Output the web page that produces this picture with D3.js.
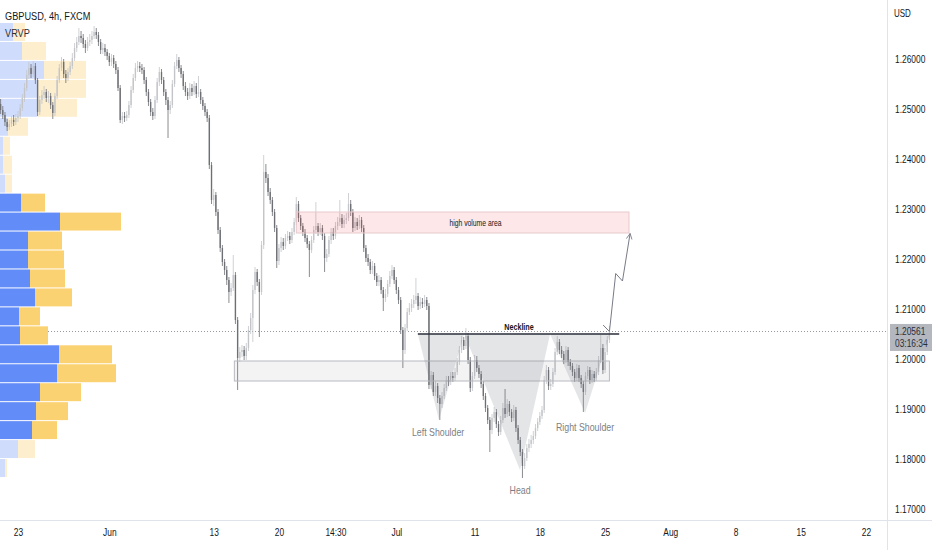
<!DOCTYPE html>
<html>
<head>
<meta charset="utf-8">
<script src="https://cdn.jsdelivr.net/npm/d3@7"></script>
<style>
  body { margin: 0; background: #fff; }
  svg { display: block; }
  text { font-family: "Liberation Sans", Arial, sans-serif; }
</style>
</head>
<body>
<svg id="chart"></svg>
<script>
// GBPUSD 4h candles, bar index 0 = Mon 23 May 00:00, 6 bars per trading day
const firstBar = -8;
const firstOpen = 1.2510;
const closes = [
  1.2498,1.2488,1.2474,1.2464,1.2470,1.2478,1.2474,1.2482,1.2486,1.2502,
  1.2522,1.2542,1.2568,1.2582,1.2570,1.2586,1.2558,1.2494,1.2518,1.2528,
  1.2534,1.2522,1.2526,1.2508,1.2492,1.2526,1.2558,1.2582,1.2594,1.2570,
  1.2562,1.2574,1.2586,1.2602,1.2622,1.2634,1.2646,1.2642,1.2630,1.2622,
  1.2634,1.2638,1.2646,1.2654,1.2648,1.2634,1.2618,1.2622,1.2614,1.2606,
  1.2594,1.2602,1.2590,1.2578,1.2542,1.2478,1.2486,1.2482,1.2488,1.2508,
  1.2538,1.2562,1.2582,1.2586,1.2582,1.2578,1.2558,1.2534,1.2514,1.2494,
  1.2486,1.2518,1.2554,1.2574,1.2558,1.2534,1.2518,1.2498,1.2508,1.2550,
  1.2586,1.2598,1.2582,1.2570,1.2546,1.2534,1.2526,1.2542,1.2534,1.2546,
  1.2530,1.2534,1.2518,1.2506,1.2494,1.2482,1.2388,1.2318,1.2328,1.2294,
  1.2258,1.2222,1.2194,1.2178,1.2158,1.2134,1.2142,1.2168,1.2078,1.2002,
  1.2014,1.2018,1.2006,1.2022,1.2058,1.2082,1.2138,1.2174,1.2154,1.2134,
  1.2228,1.2374,1.2362,1.2334,1.2318,1.2294,1.2262,1.2196,1.2222,1.2234,
  1.2226,1.2242,1.2246,1.2238,1.2254,1.2274,1.2310,1.2282,1.2266,1.2254,
  1.2242,1.2230,1.2218,1.2238,1.2258,1.2266,1.2254,1.2262,1.2246,1.2202,
  1.2210,1.2238,1.2254,1.2246,1.2266,1.2274,1.2282,1.2270,1.2278,1.2282,
  1.2310,1.2294,1.2262,1.2274,1.2266,1.2278,1.2262,1.2222,1.2202,1.2194,
  1.2178,1.2186,1.2166,1.2154,1.2158,1.2138,1.2122,1.2130,1.2150,1.2166,
  1.2178,1.2158,1.2138,1.2118,1.2058,1.2018,1.2062,1.2094,1.2102,1.2110,
  1.2118,1.2126,1.2106,1.2114,1.2110,1.2118,1.2106,1.1948,1.1968,1.1934,
  1.1946,1.1922,1.1910,1.1926,1.1942,1.1958,1.1954,1.1966,1.1962,1.1974,
  1.1994,1.2018,1.2038,1.2026,1.2046,1.1998,1.1942,1.1966,1.1998,1.1982,
  1.1970,1.1950,1.1926,1.1902,1.1878,1.1858,1.1882,1.1894,1.1870,1.1854,
  1.1878,1.1902,1.1890,1.1910,1.1894,1.1882,1.1898,1.1862,1.1838,1.1814,
  1.1786,1.1802,1.1822,1.1830,1.1838,1.1846,1.1862,1.1874,1.1886,1.1898,
  1.1958,1.1978,1.1946,1.1950,1.1974,1.2014,1.2034,1.2018,1.2010,1.1998,
  1.2018,1.1994,1.1986,1.1974,1.1962,1.1982,1.1962,1.1950,1.1934,1.1966,
  1.1978,1.1958,1.1970,1.1962,1.1974,1.1998,1.2022,1.1978,1.2014,1.2038,
  1.2056
];
const highs = [
  1.2520,1.2506,1.2494,1.2480,1.2478,1.2486,1.2488,1.2490,1.2496,1.2510,
  1.2530,1.2552,1.2578,1.2594,1.2590,1.2596,1.2592,1.2562,1.2526,1.2538,
  1.2546,1.2540,1.2536,1.2532,1.2514,1.2532,1.2566,1.2590,1.2604,1.2600,
  1.2578,1.2582,1.2594,1.2612,1.2632,1.2644,1.2662,1.2656,1.2650,1.2638,
  1.2644,1.2650,1.2656,1.2666,1.2662,1.2654,1.2640,1.2632,1.2630,1.2620,
  1.2612,1.2610,1.2608,1.2596,1.2584,1.2548,1.2494,1.2494,1.2496,1.2516,
  1.2546,1.2570,1.2592,1.2596,1.2594,1.2590,1.2584,1.2564,1.2540,1.2520,
  1.2502,1.2526,1.2562,1.2584,1.2580,1.2564,1.2540,1.2524,1.2516,1.2558,
  1.2594,1.2610,1.2604,1.2588,1.2576,1.2554,1.2542,1.2552,1.2550,1.2556,
  1.2552,1.2566,1.2540,1.2524,1.2512,1.2500,1.2488,1.2394,1.2340,1.2334,
  1.2300,1.2264,1.2228,1.2200,1.2186,1.2164,1.2152,1.2208,1.2174,1.2084,
  1.2024,1.2028,1.2026,1.2032,1.2066,1.2092,1.2148,1.2184,1.2180,1.2160,
  1.2236,1.2408,1.2390,1.2370,1.2342,1.2324,1.2300,1.2268,1.2230,1.2244,
  1.2242,1.2250,1.2256,1.2254,1.2262,1.2282,1.2324,1.2316,1.2288,1.2272,
  1.2260,1.2248,1.2236,1.2246,1.2266,1.2314,1.2272,1.2272,1.2268,1.2252,
  1.2220,1.2246,1.2262,1.2262,1.2274,1.2284,1.2318,1.2290,1.2288,1.2292,
  1.2332,1.2318,1.2300,1.2284,1.2282,1.2288,1.2284,1.2268,1.2228,1.2210,
  1.2200,1.2196,1.2192,1.2172,1.2168,1.2164,1.2144,1.2140,1.2158,1.2176,
  1.2188,1.2184,1.2164,1.2144,1.2124,1.2064,1.2070,1.2102,1.2112,1.2120,
  1.2128,1.2162,1.2132,1.2124,1.2122,1.2128,1.2124,1.2112,1.1976,1.1974,
  1.1956,1.1952,1.1928,1.1934,1.1950,1.1966,1.1966,1.1974,1.1974,1.1982,
  1.2002,1.2026,1.2046,1.2044,1.2062,1.2052,1.2004,1.1974,1.2008,1.2006,
  1.1988,1.1976,1.1956,1.1932,1.1908,1.1884,1.1890,1.1904,1.1900,1.1876,
  1.1886,1.1912,1.1940,1.1920,1.1916,1.1900,1.1908,1.1904,1.1868,1.1844,
  1.1820,1.1812,1.1830,1.1840,1.1848,1.1856,1.1870,1.1882,1.1894,1.1906,
  1.1966,1.1988,1.1984,1.1960,1.1982,1.2022,1.2046,1.2040,1.2026,1.2016,
  1.2026,1.2024,1.2000,1.1992,1.1980,1.1990,1.1988,1.1968,1.1956,1.1974,
  1.1986,1.1984,1.1978,1.1976,1.1982,1.2006,1.2048,1.2030,1.2022,1.2046,
  1.2066
];
const lows = [
  1.2490,1.2480,1.2466,1.2456,1.2458,1.2464,1.2466,1.2468,1.2474,1.2480,
  1.2496,1.2514,1.2536,1.2560,1.2562,1.2564,1.2550,1.2486,1.2488,1.2510,
  1.2520,1.2514,1.2512,1.2500,1.2480,1.2486,1.2520,1.2552,1.2576,1.2562,
  1.2552,1.2556,1.2568,1.2580,1.2596,1.2614,1.2628,1.2632,1.2622,1.2612,
  1.2616,1.2626,1.2630,1.2640,1.2640,1.2626,1.2610,1.2610,1.2606,1.2598,
  1.2586,1.2586,1.2582,1.2570,1.2536,1.2472,1.2470,1.2474,1.2476,1.2482,
  1.2502,1.2532,1.2556,1.2574,1.2574,1.2570,1.2550,1.2526,1.2506,1.2486,
  1.2478,1.2480,1.2512,1.2546,1.2550,1.2526,1.2508,1.2442,1.2490,1.2502,
  1.2544,1.2580,1.2574,1.2562,1.2538,1.2526,1.2518,1.2520,1.2526,1.2528,
  1.2522,1.2524,1.2510,1.2498,1.2486,1.2474,1.2380,1.2310,1.2306,1.2286,
  1.2250,1.2214,1.2186,1.2168,1.2148,1.2112,1.2126,1.2136,1.2070,1.1938,
  1.1994,1.2004,1.1998,1.1998,1.2016,1.2050,1.2034,1.2130,1.2146,1.2044,
  1.2128,1.2220,1.2352,1.2326,1.2310,1.2286,1.2254,1.2182,1.2188,1.2214,
  1.2218,1.2220,1.2236,1.2230,1.2232,1.2248,1.2268,1.2274,1.2258,1.2246,
  1.2234,1.2222,1.2164,1.2212,1.2232,1.2250,1.2246,1.2248,1.2238,1.2174,
  1.2194,1.2204,1.2230,1.2238,1.2240,1.2258,1.2266,1.2262,1.2262,1.2270,
  1.2276,1.2286,1.2254,1.2256,1.2258,1.2260,1.2254,1.2214,1.2194,1.2186,
  1.2170,1.2170,1.2158,1.2146,1.2146,1.2130,1.2096,1.2114,1.2124,1.2144,
  1.2160,1.2150,1.2130,1.2110,1.2050,1.1982,1.2010,1.2056,1.2088,1.2094,
  1.2102,1.2110,1.2098,1.2100,1.2102,1.2104,1.2098,1.1940,1.1940,1.1926,
  1.1926,1.1912,1.1878,1.1902,1.1920,1.1936,1.1946,1.1948,1.1954,1.1956,
  1.1968,1.1988,1.2012,1.2018,1.2020,1.1990,1.1934,1.1936,1.1960,1.1974,
  1.1962,1.1942,1.1918,1.1894,1.1870,1.1814,1.1850,1.1874,1.1862,1.1846,
  1.1848,1.1872,1.1882,1.1884,1.1886,1.1874,1.1876,1.1854,1.1830,1.1806,
  1.1762,1.1780,1.1796,1.1814,1.1822,1.1830,1.1840,1.1856,1.1868,1.1880,
  1.1892,1.1950,1.1938,1.1938,1.1944,1.1968,1.2008,1.2010,1.2002,1.1990,
  1.1992,1.1986,1.1978,1.1966,1.1954,1.1956,1.1954,1.1942,1.1894,1.1928,
  1.1960,1.1950,1.1952,1.1954,1.1956,1.1968,1.1992,1.1970,1.1972,1.2008,
  1.2032
];

// axes
const priceTicks = [1.17, 1.18, 1.19, 1.20, 1.21, 1.22, 1.23, 1.24, 1.25, 1.26];
const timeTickBars = [0, 42, 90, 120, 146, 174, 210, 240, 270, 300, 330, 360, 390];
const timeTickLabels = ["23", "Jun", "13", "20", "14:30", "Jul", "11", "18", "25", "Aug", "8", "15", "22"];
const lastPrice = 1.20561;
const countdown = "03:16:34";

// visible range volume profile, rows from top (high price) to bottom
const vpHigh = 1.2672;
const vpLow = 1.1762;
const vpUp =   [13, 22, 44, 37, 37, 8, 3, 3, 5, 21, 60, 28, 28, 30, 35, 19, 20, 59, 57, 40, 36, 32, 18, 5];
const vpDown = [12, 24, 42, 49, 40, 20, 7, 9, 7, 24, 61, 34, 36, 35, 37, 21, 28, 53, 59, 41, 32, 25, 17, 2];
const valueArea = [9, 21];

// drawings: [bar, price]
const highVolZone = { bars: [128, 281], prices: [1.2294, 1.2252], label: "high volume area", labelBar: 210.4 };
const supportZone = { bars: [99.5, 272], prices: [1.1996, 1.1956] };
const necklinePrice = 1.2050;
const necklineBars = [183.9, 276.5];
const hsPattern = [[183.9, 1.2050], [193.6, 1.1878], [205.2, 1.2050], [230.9, 1.1778],
                   [244.7, 1.2050], [260.8, 1.1892], [272.2, 1.2050]];
const hsLabels = [
  { text: "Left Shoulder", bar: 193.2, price: 1.1846 },
  { text: "Head", bar: 230.9, price: 1.1731 },
  { text: "Right Shoulder", bar: 260.8, price: 1.1857 }
];
const projection = [[269.1, 1.2068], [272.0, 1.2055], [274.9, 1.2171], [278.0, 1.2156], [281.5, 1.2251]];

const W = 932, H = 550, plotR = 887, plotB = 520;

const svg = d3.select("#chart").attr("width", W).attr("height", H);

const x = d3.scaleLinear().domain([0, 390]).range([18, 866]);
const y = d3.scaleLinear().domain([1.17, 1.26]).range([509, 59]);

// the chart's font is a narrow one; squeeze text horizontally
function narrow(sel, k = 0.8) {
  sel.each(function () {
    const t = d3.select(this);
    const tx = +t.attr("x") || 0, ty = +t.attr("y") || 0;
    t.attr("x", 0).attr("y", 0).attr("transform", `translate(${tx},${ty}) scale(${k},1)`);
  });
}

const defs = svg.append("defs");
defs.append("clipPath").attr("id", "plot")
  .append("rect").attr("width", plotR).attr("height", plotB);

const plot = svg.append("g").attr("clip-path", "url(#plot)");

// last price dotted line
plot.append("line")
  .attr("x1", 0).attr("x2", plotR)
  .attr("y1", Math.round(y(lastPrice)) + 0.5).attr("y2", Math.round(y(lastPrice)) + 0.5)
  .attr("stroke", "#9598a1").attr("stroke-dasharray", "1,2");

// volume profile
const rowStep = (vpHigh - vpLow) / vpUp.length;
const vx = d3.scaleLinear().domain([0, d3.max(vpUp, (d, i) => d + vpDown[i])]).range([0, 121]);
const rows = vpUp.map((u, i) => ({
  top: y(vpHigh - i * rowStep),
  bottom: y(vpHigh - (i + 1) * rowStep),
  up: u, down: vpDown[i],
  inVA: i >= valueArea[0] && i <= valueArea[1]
}));
const vp = plot.append("g");
rows.forEach(r => {
  const h = r.bottom - r.top - 1;
  vp.append("rect").attr("x", 0).attr("y", r.top).attr("width", vx(r.up)).attr("height", h)
    .attr("fill", r.inVA ? "#628cf8" : "#cfdcfb");
  vp.append("rect").attr("x", vx(r.up)).attr("y", r.top).attr("width", vx(r.down)).attr("height", h)
    .attr("fill", r.inVA ? "#fbd272" : "#fdeecd");
});

// candles
const bars = closes.map((c, k) => ({
  i: firstBar + k,
  o: k ? closes[k - 1] : firstOpen,
  h: highs[k], l: lows[k], c
}));
const bw = (x(1) - x(0)) * 0.62;
const upCol = "#c3c5c9", downCol = "#6d6f74";
const candles = plot.append("g").selectAll("g").data(bars).join("g");
candles.append("line")
  .attr("x1", d => x(d.i)).attr("x2", d => x(d.i))
  .attr("y1", d => y(Math.max(d.h, d.o, d.c))).attr("y2", d => y(Math.min(d.l, d.o, d.c)))
  .attr("stroke", d => d.c >= d.o ? upCol : downCol).attr("stroke-width", 0.8);
candles.append("rect")
  .attr("x", d => x(d.i) - bw / 2).attr("width", bw)
  .attr("y", d => y(Math.max(d.o, d.c)))
  .attr("height", d => Math.max(1, Math.abs(y(d.o) - y(d.c))))
  .attr("fill", d => d.c >= d.o ? upCol : downCol);

// drawings
const draw = plot.append("g");
draw.append("rect")
  .attr("x", x(highVolZone.bars[0])).attr("width", x(highVolZone.bars[1]) - x(highVolZone.bars[0]))
  .attr("y", y(highVolZone.prices[0])).attr("height", y(highVolZone.prices[1]) - y(highVolZone.prices[0]))
  .attr("fill", "rgba(242,54,69,0.12)").attr("stroke", "#e8c9cc");
draw.append("text")
  .attr("x", x(highVolZone.labelBar)).attr("y", (y(highVolZone.prices[0]) + y(highVolZone.prices[1])) / 2 + 3)
  .attr("text-anchor", "middle").attr("font-size", 8.5).attr("fill", "#131722")
  .text(highVolZone.label);

draw.append("rect")
  .attr("x", x(supportZone.bars[0])).attr("width", x(supportZone.bars[1]) - x(supportZone.bars[0]))
  .attr("y", y(supportZone.prices[0])).attr("height", y(supportZone.prices[1]) - y(supportZone.prices[0]))
  .attr("fill", "rgba(120,123,134,0.09)").attr("stroke", "#b8bac0");

draw.append("path")
  .attr("d", d3.line().x(d => x(d[0])).y(d => y(d[1]))(hsPattern) + "Z")
  .attr("fill", "rgba(120,123,134,0.2)");

draw.append("line")
  .attr("x1", x(necklineBars[0])).attr("x2", x(necklineBars[1]))
  .attr("y1", y(necklinePrice)).attr("y2", y(necklinePrice))
  .attr("stroke", "#2a2e39").attr("stroke-width", 1.5);
draw.append("text")
  .attr("x", x(230.4)).attr("y", y(necklinePrice) - 4)
  .attr("text-anchor", "middle").attr("font-size", 9).attr("font-weight", "bold").attr("fill", "#131722")
  .text("Neckline");

draw.selectAll(".hs").data(hsLabels).join("text")
  .attr("x", d => x(d.bar)).attr("y", d => y(d.price))
  .attr("text-anchor", "middle").attr("font-size", 11).attr("fill", "#7c7f88")
  .text(d => d.text);

defs.append("marker")
  .attr("id", "arrow").attr("viewBox", "0 0 10 10").attr("refX", 9).attr("refY", 5)
  .attr("markerWidth", 7).attr("markerHeight", 7).attr("orient", "auto")
  .append("path").attr("d", "M1,1 L9,5 L1,9").attr("fill", "none").attr("stroke", "#787b86").attr("stroke-width", 1.2);
draw.append("path")
  .attr("d", d3.line().x(d => x(d[0])).y(d => y(d[1]))(projection))
  .attr("fill", "none").attr("stroke", "#787b86").attr("stroke-width", 1)
  .attr("marker-end", "url(#arrow)");

// header
svg.append("text").attr("x", 5).attr("y", 20).attr("font-size", 11.5).attr("fill", "#131722")
  .text("GBPUSD, 4h, FXCM");
svg.append("text").attr("x", 5).attr("y", 37).attr("font-size", 11.5).attr("fill", "#2a2e39")
  .text("VRVP");

// axis borders
svg.append("line").attr("x1", plotR + 0.5).attr("x2", plotR + 0.5).attr("y1", 0).attr("y2", H)
  .attr("stroke", "#e0e3eb");
svg.append("line").attr("x1", 0).attr("x2", W).attr("y1", plotB + 0.5).attr("y2", plotB + 0.5)
  .attr("stroke", "#e0e3eb");

// price axis
const yAxis = svg.append("g").attr("transform", `translate(${plotR},0)`)
  .call(d3.axisRight(y).tickValues(priceTicks).tickFormat(d3.format(".5f")).tickSize(0).tickPadding(8));
yAxis.select(".domain").remove();
yAxis.selectAll("text").attr("font-size", 10.5).attr("fill", "#131722").attr("font-family", null);
svg.append("text").attr("x", 894).attr("y", 17).attr("font-size", 10).attr("fill", "#131722").text("USD");

// last price label
const ly = y(lastPrice);
svg.append("rect").attr("x", plotR + 3).attr("y", ly - 7).attr("width", W - plotR - 3).attr("height", 27)
  .attr("fill", "#b4b7be");
svg.append("text").attr("x", 895).attr("y", ly + 4.5).attr("font-size", 10.5).attr("fill", "#2a2e39")
  .text(d3.format(".5f")(lastPrice));
svg.append("text").attr("x", 895).attr("y", ly + 16.5).attr("font-size", 10.5).attr("fill", "#2a2e39")
  .text(countdown);

// time axis
const xAxis = svg.append("g").attr("transform", `translate(0,${plotB})`)
  .call(d3.axisBottom(x).tickValues(timeTickBars).tickFormat((d, i) => timeTickLabels[i]).tickSize(0).tickPadding(9));
xAxis.select(".domain").remove();
xAxis.selectAll("text").attr("font-size", 10.5).attr("fill", "#131722").attr("font-family", null);

narrow(svg.selectAll("text"));
</script>
</body>
</html>
